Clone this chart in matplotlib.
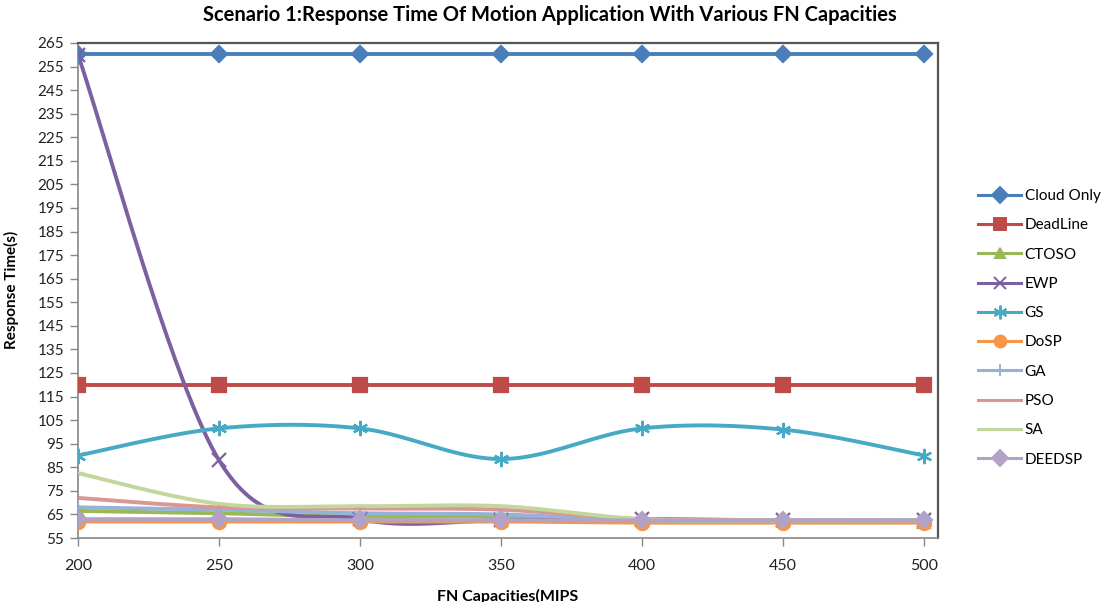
import numpy as np
import matplotlib
matplotlib.use("Agg")
import matplotlib.pyplot as plt
from matplotlib.lines import Line2D

plt.rcParams['font.family'] = ['Lato', 'DejaVu Sans']

capacities = [200, 250, 300, 350, 400, 450, 500]

series_names = ["Cloud Only", "DeadLine", "CTOSO", "EWP", "GS",
                "DoSP", "GA", "PSO", "SA", "DEEDSP"]

cloud_only = [260.5, 260.5, 260.5, 260.5, 260.5, 260.5, 260.5]
deadline = [120, 120, 120, 120, 120, 120, 120]
ctoso = [66.5, 65.5, 64, 64, 62.5, 62.5, 62]
ewp = [260, 88, 63, 62.5, 63, 62.5, 62.5]
gs = [90, 101.5, 101.5, 88.5, 101.5, 101, 90]
dosp = [62, 62, 62, 62, 61.5, 61.5, 61.5]
ga = [68, 67, 65.5, 65, 62.5, 62.5, 62.5]
pso = [72, 68, 67.5, 67, 63, 62.5, 62.5]
sa = [82.5, 69.5, 68.5, 68.5, 63, 62.5, 62.5]
deedsp = [63, 63, 62.5, 62.5, 62.5, 62.5, 62.5]

y_ticks = list(range(55, 266, 10))

colors = ["#4A7EBB", "#BE4B48", "#98B954", "#7D60A0", "#46AAC5",
          "#F79646", "#95B3D7", "#D99694", "#C3D69B", "#B3A2C7"]
markers = ["D", "s", "^", "x", (6, 2, 0), "o", "+", "_", "_", "D"]
msizes = [8.5, 9.5, 8.5, 9.5, 11, 9.5, 9, 8, 8, 8.5]


def smooth(xs, ys, n=40):
    """Catmull-Rom curve through the points (Excel style smoothed line)."""
    pts = np.column_stack([xs, ys]).astype(float)
    ext = np.vstack([pts[0], pts, pts[-1]])
    out = []
    t = np.linspace(0, 1, n)
    for i in range(1, len(ext) - 2):
        p0, p1, p2, p3 = ext[i - 1], ext[i], ext[i + 1], ext[i + 2]
        c1 = p1 + (p2 - p0) / 6.0
        c2 = p2 - (p3 - p1) / 6.0
        seg = ((1 - t) ** 3)[:, None] * p1 + (3 * (1 - t) ** 2 * t)[:, None] * c1 \
            + (3 * (1 - t) * t ** 2)[:, None] * c2 + (t ** 3)[:, None] * p2
        out.append(seg if i == 1 else seg[1:])
    c = np.vstack(out)
    return c[:, 0], c[:, 1]


fig = plt.figure(figsize=(11.09, 6.02), dpi=100)
ax = fig.add_axes([78 / 1109, 1 - 538 / 602, (938 - 78) / 1109, (538 - 43) / 602])

data = [cloud_only, deadline, ctoso, ewp, gs, dosp, ga, pso, sa, deedsp]
handles = []
for name, vals, col, mk, ms in zip(series_names, data, colors, markers, msizes):
    sx, sy = smooth(capacities, vals)
    ax.plot(sx, sy, color=col, lw=2.8, solid_capstyle='round', zorder=2)
    ax.plot(capacities, vals, linestyle='none', marker=mk, markersize=ms,
            color=col, markeredgecolor=col, markeredgewidth=1.6, zorder=3)
    handles.append(Line2D([0], [0], color=col, lw=2.2, marker=mk,
                          markersize=ms * 0.9, markeredgecolor=col,
                          markeredgewidth=1.4, label=name))

ax.set_xlim(200, 505)
ax.set_ylim(55, 265)
ax.set_xticks(capacities)
ax.set_yticks(y_ticks)
ax.tick_params(axis='x', direction='out', length=6, width=1, color='#888888',
               pad=9, labelsize=11.5)
ax.tick_params(axis='y', direction='out', length=6, width=1, color='#888888',
               pad=4, labelsize=11)
for lab in ax.get_xticklabels() + ax.get_yticklabels():
    lab.set_color('#222222')

for side in ['left', 'bottom']:
    ax.spines[side].set_color('#888888')
    ax.spines[side].set_linewidth(1.2)
for side in ['top', 'right']:
    ax.spines[side].set_color('#555555')
    ax.spines[side].set_linewidth(1.6)

fig.text(550 / 1109, 1 - 15 / 602,
         "Scenario 1:Response Time Of Motion Application With Various FN Capacities",
         ha='center', va='center', fontsize=14.5, fontweight='bold')
fig.text(0.5 * (78 + 938) / 1109, 1 - 596 / 602, "FN Capacities(MIPS",
         ha='center', va='center', fontsize=11.5, fontweight='bold')
fig.text(11 / 1109, 1 - 290 / 602, "Response Time(s)", rotation=90,
         ha='center', va='center', fontsize=11, fontweight='bold')

leg = fig.legend(handles=handles, loc='upper left',
                 bbox_to_anchor=(972 / 1109, 1 - 183 / 602),
                 frameon=False, fontsize=11, handlelength=2.8,
                 handletextpad=0.25, labelspacing=1.0, borderaxespad=0)

fig.savefig("out.png", dpi=100)
